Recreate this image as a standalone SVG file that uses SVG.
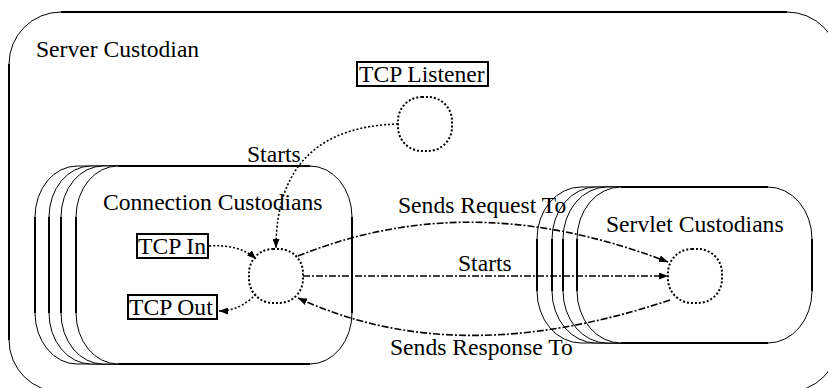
<svg xmlns="http://www.w3.org/2000/svg" width="828" height="388" viewBox="0 0 828 388">
  <defs>
    <style>
      .lbl { font-family: "Liberation Serif", "Times New Roman", serif; font-size: 23.6px; fill: #000; }
      .shell { fill: #fff; stroke: #000; stroke-width: 1; }
      .edge { fill: none; stroke: #000; stroke-width: 2; }
      .tag { fill: #fff; stroke: #000; stroke-width: 2; }
      .proc { fill: #fff; stroke: #000; stroke-width: 2; stroke-dasharray: 2 2; }
      .dot { fill: none; stroke: #000; stroke-width: 1.6; stroke-dasharray: 2 2; }
      .dashdot { fill: none; stroke: #000; stroke-width: 1.6; stroke-dasharray: 7 2 2 2; }
    </style>
    <marker id="arrow" markerUnits="userSpaceOnUse" markerWidth="9" markerHeight="7" refX="9" refY="3.5" orient="auto">
      <path d="M0,0 L9,3.5 L0,7 z" fill="#000"/>
    </marker>
  </defs>

  <rect width="828" height="388" fill="#fff"/>

  <!-- outer server container -->
  <g id="server-custodian">
    <rect class="shell" x="9" y="12" width="830" height="380" rx="52" ry="52"/>
    <path class="edge" d="M61,12 H787 M9,64 V340"/>
    <text class="lbl" x="36" y="57">Server Custodian</text>
  </g>

  <!-- stacked connection custodians -->
  <g id="connection-custodians">
    <rect class="shell" x="35" y="166" width="276" height="198" rx="42" ry="51"/>
    <path class="edge" d="M35,217 V313"/>
    <rect class="shell" x="49" y="166" width="276" height="198" rx="42" ry="51"/>
    <path class="edge" d="M49,217 V313"/>
    <rect class="shell" x="61" y="166" width="276" height="198" rx="42" ry="51"/>
    <path class="edge" d="M61,217 V313"/>
    <rect class="shell" x="76" y="166" width="276" height="198" rx="42" ry="51"/>
    <path class="edge" d="M118,166 H310 M76,217 V313 M352,217 V313 M118,364 H310"/>
    <text class="lbl" x="103" y="210">Connection Custodians</text>
  </g>

  <!-- stacked servlet custodians -->
  <g id="servlet-custodians">
    <rect class="shell" x="537" y="187" width="235" height="156" rx="44" ry="52"/>
    <path class="edge" d="M537,239 V291"/>
    <rect class="shell" x="552" y="187" width="235" height="156" rx="44" ry="52"/>
    <path class="edge" d="M552,239 V291"/>
    <rect class="shell" x="563" y="187" width="235" height="156" rx="44" ry="52"/>
    <path class="edge" d="M563,239 V291"/>
    <rect class="shell" x="577" y="187" width="235" height="156" rx="44" ry="52"/>
    <path class="edge" d="M621,187 H768 M577,239 V291 M812,239 V291 M621,343 H768"/>
    <text class="lbl" x="606" y="232">Servlet Custodians</text>
  </g>

  <!-- boxed labels -->
  <g id="tcp-listener">
    <rect class="tag" x="357" y="62" width="131" height="24"/>
    <text class="lbl" x="359" y="82">TCP Listener</text>
  </g>
  <g id="tcp-in">
    <rect class="tag" x="137" y="234" width="71" height="24"/>
    <text class="lbl" x="138" y="254">TCP In</text>
  </g>
  <g id="tcp-out">
    <rect class="tag" x="128" y="295" width="89" height="24"/>
    <text class="lbl" x="129" y="315">TCP Out</text>
  </g>

  <!-- process nodes -->
  <g id="listener-node">
    <rect class="proc" x="398" y="97" width="54" height="54" rx="24" ry="24"/>
  </g>
  <g id="connection-node">
    <rect class="proc" x="249" y="249" width="54" height="54" rx="24" ry="24"/>
  </g>
  <g id="servlet-node">
    <rect class="proc" x="668" y="249" width="54" height="54" rx="24" ry="24"/>
  </g>

  <!-- connectors -->
  <g id="connectors">
    <path class="dot" d="M398,124 C320,126 276,165 276,248" marker-end="url(#arrow)"/>
    <path class="dot" d="M209,246 Q240,244 256,259" marker-end="url(#arrow)"/>
    <path class="dot" d="M256,294 Q240,311 219,311" marker-end="url(#arrow)"/>
    <path class="dashdot" d="M298,256 C400,215 520,205 668,262" marker-end="url(#arrow)"/>
    <path class="dashdot" d="M303,276 H668" marker-end="url(#arrow)"/>
    <path class="dashdot" d="M670,300 C520,350 400,345 298,298" marker-end="url(#arrow)"/>
    <text class="lbl" x="247" y="162">Starts</text>
    <text class="lbl" x="398" y="213">Sends Request To</text>
    <text class="lbl" x="458" y="271">Starts</text>
    <text class="lbl" x="390" y="355">Sends Response To</text>
  </g>
</svg>
